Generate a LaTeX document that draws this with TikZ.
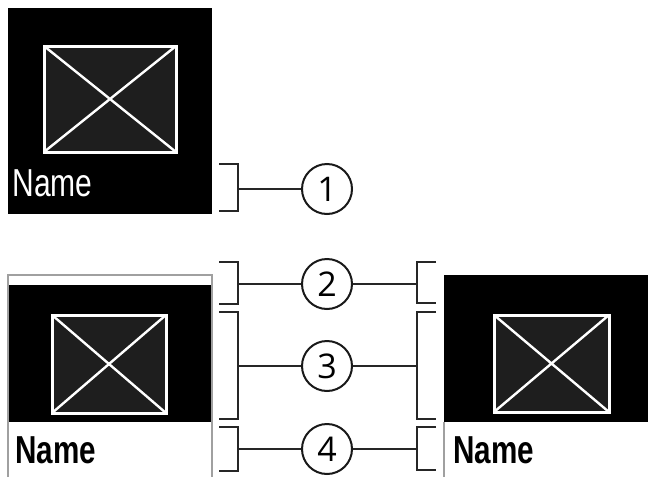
\documentclass[tikz,border=0pt]{standalone}
\usepackage{fontspec}
\newfontfamily\namefont[FakeStretch=0.77]{Liberation Sans}
\newfontfamily\nameboldfont[FakeStretch=0.76]{Liberation Sans Bold}
\newfontfamily\numfont{Open Sans}
\usetikzlibrary{positioning}
\definecolor{imgfill}{RGB}{30,30,30}
\definecolor{edgegray}{RGB}{160,160,160}

\begin{document}
\begin{tikzpicture}
  [x=0.5pt,y=-0.5pt,
   img/.style={fill=imgfill,draw=white,line width=1.5},
   cross/.style={draw=white,line width=1.2},
   brk/.style={draw=black!85,line width=1},
   num/.style={circle,draw=black!90,line width=1,minimum size=25pt,inner sep=0pt,
     font=\numfont\fontsize{17}{17}\selectfont},
   lbl/.style={anchor=base west,inner sep=0pt}]
  \useasboundingbox (0,0) rectangle (648,477);

  % cell 1
  \fill[black] (8,8) rectangle (212,214);
  \draw[img] (44,46) rectangle (176,152);
  \draw[cross] (44,46) -- (176,152) (44,152) -- (176,46);
  \node[lbl,text=white,font=\namefont\fontsize{19.5}{19.5}\selectfont] (name1) at (12,196) {Name};

  % cell 2 (left)
  \fill[black] (8,285) rectangle (212,422);
  \draw[edgegray,line width=0.6] (8,477) -- (8,275) -- (212,275) -- (212,477);
  \draw[img] (52,315) rectangle (166,413);
  \draw[cross] (52,315) -- (166,413) (52,413) -- (166,315);
  \node[lbl,font=\nameboldfont\fontsize{19.5}{19.5}\selectfont] (name2) at (15,463) {Name};

  % cell 3 (right)
  \fill[black] (444,275) rectangle (648,422);
  \draw[edgegray,line width=0.6] (444,422) -- (444,477);
  \draw[img] (494,315) rectangle (609,412);
  \draw[cross] (494,315) -- (609,412) (494,412) -- (609,315);
  \node[lbl,font=\nameboldfont\fontsize{19.5}{19.5}\selectfont] (name3) at (453,463) {Name};

  % numbers
  \node[num] (c1) at (327,189) {1};
  \node[num] (c2) at (327,284) {2};
  \node[num] (c3) at (327,366) {3};
  \node[num] (c4) at (327,449) {4};

  % brackets
  \draw[brk] (219,164) -| (238,211) -- (219,211);
  \draw[brk] (219,262) -| (238,304) -- (219,304);
  \draw[brk] (219,312) -| (238,419) -- (219,419);
  \draw[brk] (219,427) -| (238,471) -- (219,471);
  \draw[brk] (436,262) -| (417,303) -- (436,303);
  \draw[brk] (436,312) -| (417,419) -- (436,419);
  \draw[brk] (436,427) -| (417,470) -- (436,470);

  \coordinate (b1) at (238,189);
  \coordinate (b2) at (238,284);
  \coordinate (b3) at (238,366);
  \coordinate (b4) at (238,449);
  \coordinate (r2) at (417,284);
  \coordinate (r3) at (417,366);
  \coordinate (r4) at (417,449);

  \draw[brk] (b1) -- (c1);
  \draw[brk] (b2) -- (c2);
  \draw[brk] (c2) -- (r2);
  \draw[brk] (b3) -- (c3);
  \draw[brk] (c3) -- (r3);
  \draw[brk] (b4) -- (c4);
  \draw[brk] (c4) -- (r4);
\end{tikzpicture}
\end{document}
